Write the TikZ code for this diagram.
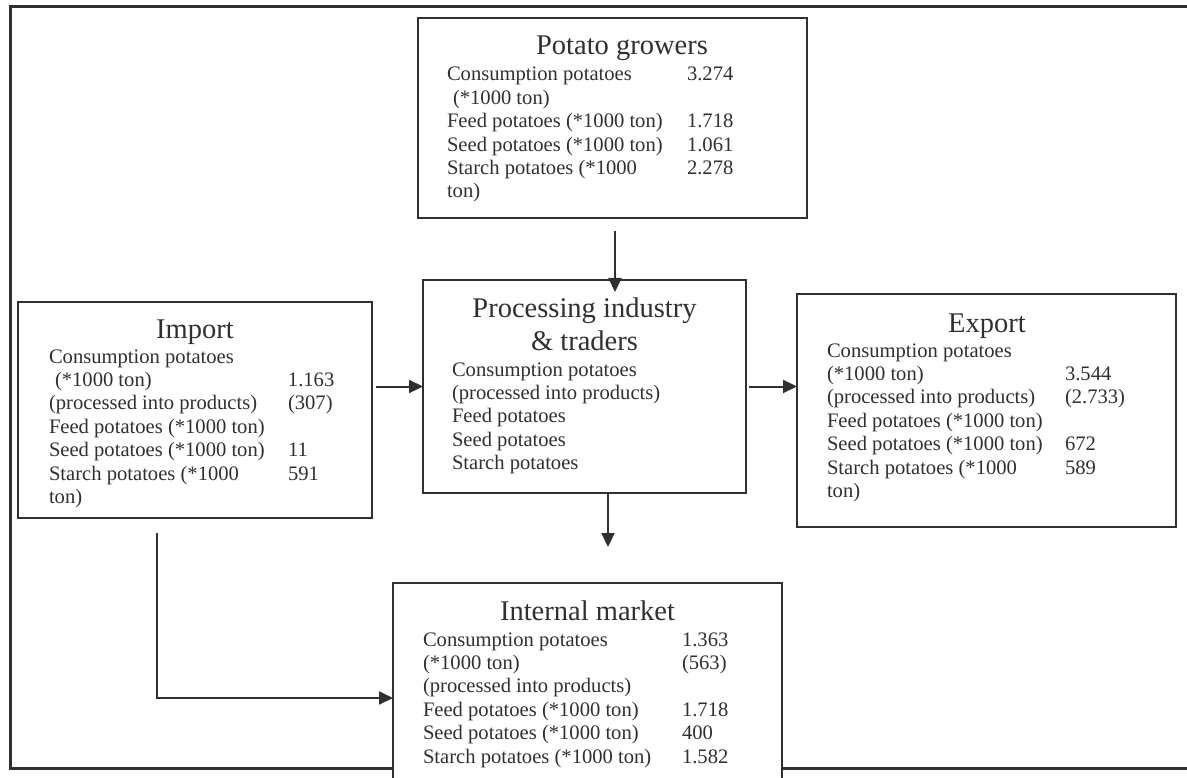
\documentclass[tikz,border=0pt]{standalone}
\usepackage{fontspec}
\setmainfont{Liberation Serif}
\usetikzlibrary{arrows.meta,calc}
\definecolor{ink}{RGB}{48,48,52}
\begin{document}
\begin{tikzpicture}[x=1pt,y=-1pt,
  every node/.style={inner sep=0pt,outer sep=0pt,text=ink},
  boxnode/.style={draw=ink,line width=2.2pt,fill=white,rectangle},
  ttl/.style={font=\fontsize{28.5}{33}\selectfont,anchor=base},
  bodytxt/.style={font=\fontsize{20.6}{23.4}\selectfont,anchor=base west},
  arr/.style={draw=ink,line width=2pt,-{Triangle[length=14pt,width=13pt]}},
  frameline/.style={draw=ink,line width=3pt}]
\useasboundingbox (0,0) rectangle (1187,778);
\fill[white] (0,0) rectangle (1187,778);
\clip (0,0) rectangle (1187,778);

% outer frame, open on the right
\draw[frameline] (1200,7) -- (10,7) -- (10,768) -- (1200,768);

% boxes
\node[boxnode,minimum width=389pt,minimum height=200pt] (pg) at (612.5,118) {};
\node[boxnode,minimum width=354pt,minimum height=216pt] (imp) at (195,410) {};
\node[boxnode,minimum width=323pt,minimum height=213pt] (proc) at (584.5,386.5) {};
\node[boxnode,minimum width=379pt,minimum height=233pt] (exp) at (986.5,410.5) {};
\node[boxnode,minimum width=389pt,minimum height=230pt] (im) at (587.5,698) {};

% potato growers
\node[ttl] (pg-t) at ($(pg.north)+(9.5,37)$) {Potato growers};
\node[bodytxt] (pg-b) at ($(pg.north west)+(29,63)$) {\begin{tabular}[t]{@{}p{240pt}@{}l@{}}
Consumption potatoes & 3.274\\
\hspace{6pt}(*1000 ton) & \\
Feed potatoes (*1000 ton) & 1.718\\
Seed potatoes (*1000 ton) & 1.061\\
Starch potatoes (*1000 & 2.278\\
ton) &
\end{tabular}};

% import
\node[ttl] (imp-t) at ($(imp.north)+(0,36)$) {Import};
\node[bodytxt] (imp-b) at ($(imp.north west)+(31,61)$) {\begin{tabular}[t]{@{}p{239pt}@{}l@{}}
Consumption potatoes & \\
\hspace{6pt}(*1000 ton) & 1.163\\
(processed into products) & (307)\\
Feed potatoes (*1000 ton) & \\
Seed potatoes (*1000 ton) & 11\\
Starch potatoes (*1000 & 591\\
ton) &
\end{tabular}};

% processing industry
\node[ttl] (proc-t) at ($(proc.north)+(0,37)$) {\begin{tabular}[t]{@{}c@{}}Processing industry\\ \& traders\end{tabular}};
\node[bodytxt] (proc-b) at ($(proc.north west)+(29,96)$) {\begin{tabular}[t]{@{}l@{}}
Consumption potatoes\\
(processed into products)\\
Feed potatoes\\
Seed potatoes\\
Starch potatoes
\end{tabular}};

% export
\node[ttl] (exp-t) at ($(exp.north)+(0.5,38)$) {Export};
\node[bodytxt] (exp-b) at ($(exp.north west)+(30,63)$) {\begin{tabular}[t]{@{}p{238pt}@{}l@{}}
Consumption potatoes & \\
(*1000 ton) & 3.544\\
(processed into products) & (2.733)\\
Feed potatoes (*1000 ton) & \\
Seed potatoes (*1000 ton) & 672\\
Starch potatoes (*1000 & 589\\
ton) &
\end{tabular}};

% internal market
\node[ttl] (im-t) at ($(im.north)+(0,37)$) {Internal market};
\node[bodytxt] (im-b) at ($(im.north west)+(30,63)$) {\begin{tabular}[t]{@{}p{259pt}@{}l@{}}
Consumption potatoes & 1.363\\
(*1000 ton) & (563)\\
(processed into products) & \\
Feed potatoes (*1000 ton) & 1.718\\
Seed potatoes (*1000 ton) & 400\\
Starch potatoes (*1000 ton) & 1.582
\end{tabular}};

% flows
\draw[arr] ($(pg.south)+(2.5,13)$) -- ($(proc.north)+(30.5,12)$);
\draw[arr] ([xshift=4pt]imp.east |- proc.west) -- (proc.west);
\draw[arr] ([xshift=3pt]proc.east) -- (exp.west |- proc.east);
\draw[arr] ([xshift=23.5pt]proc.south) -- ++(0,54);
\draw[arr] ($(imp.south)+(-38,15)$) |- ($(im.north west)+(0,115)$);
\end{tikzpicture}
\end{document}
